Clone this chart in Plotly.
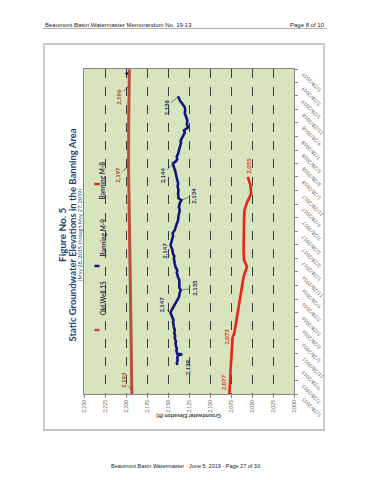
import plotly.graph_objects as go

# ---------------- data ----------------
ELEV_TICKS = [2250, 2225, 2200, 2175, 2150, 2125, 2100, 2075, 2050, 2025, 2000]
ELEV_TICK_TEXT = ["2,250", "2,225", "2,200", "2,175", "2,150", "2,125",
                  "2,100", "2,075", "2,050", "2,025", "2,000"]

DATE_TICKS = ["2015-05-28", "2015-07-28", "2015-09-28", "2015-11-28",
              "2016-01-28", "2016-03-28", "2016-05-28", "2016-07-28",
              "2016-09-28", "2016-11-28", "2017-01-28", "2017-03-28",
              "2017-05-28", "2017-07-28", "2017-09-28", "2017-11-28",
              "2018-01-28", "2018-03-28", "2018-05-28", "2018-07-28",
              "2018-09-28", "2018-11-28", "2019-01-28", "2019-03-28",
              "2019-05-28"]
DATE_TICK_TEXT = ["5/28/2015", "7/28/2015", "9/28/2015", "11/28/2015",
                  "1/28/2016", "3/28/2016", "5/28/2016", "7/28/2016",
                  "9/28/2016", "11/28/2016", "1/28/2017", "3/28/2017",
                  "5/28/2017", "7/28/2017", "9/28/2017", "11/28/2017",
                  "1/28/2018", "3/28/2018", "5/28/2018", "7/28/2018",
                  "9/28/2018", "11/28/2018", "1/28/2019", "3/28/2019",
                  "5/28/2019"]

OW15_DATES = ["2015-05-28", "2015-06-15", "2015-10-01", "2016-03-01", "2016-08-02",
              "2016-08-05", "2017-01-01", "2017-08-01", "2018-03-17", "2018-10-01",
              "2019-03-15", "2019-05-27"]
OW15_VALUES = [2193, 2193, 2193.5, 2194, 2194.6, 2195.3, 2196, 2196.5, 2197, 2196.8,
               2196, 2196]

M9_DATES = ["2015-10-05", "2015-10-15", "2015-10-27", "2015-11-09", "2015-11-19",
            "2015-11-22", "2015-11-25", "2015-12-09", "2015-12-20", "2015-12-29",
            "2016-01-12", "2016-01-20", "2016-02-02", "2016-02-15", "2016-02-27",
            "2016-03-10", "2016-03-24", "2016-04-13", "2016-04-25", "2016-05-08",
            "2016-05-26", "2016-06-06", "2016-06-26", "2016-07-05", "2016-07-16",
            "2016-08-06", "2016-08-25", "2016-09-06", "2016-09-19", "2016-10-09",
            "2016-10-20", "2016-11-03", "2016-11-23", "2016-12-05", "2016-12-18",
            "2017-01-05", "2017-01-27", "2017-02-05", "2017-02-16", "2017-03-08",
            "2017-03-27", "2017-04-17", "2017-05-07", "2017-05-20", "2017-06-02",
            "2017-06-26", "2017-07-17", "2017-08-05", "2017-08-20", "2017-08-31",
            "2017-09-14", "2017-10-02", "2017-10-15", "2017-10-24", "2017-11-16",
            "2017-12-01", "2017-12-13", "2018-01-01", "2018-01-13", "2018-02-06",
            "2018-02-26", "2018-03-12", "2018-03-30", "2018-04-07", "2018-04-17",
            "2018-05-01", "2018-05-12", "2018-06-10", "2018-07-01", "2018-07-10",
            "2018-07-25", "2018-08-15", "2018-08-25", "2018-09-08", "2018-09-21",
            "2018-10-09", "2018-10-20", "2018-10-29", "2018-11-10", "2018-11-25",
            "2018-12-07", "2018-12-23", "2019-01-07", "2019-01-25"]
M9_VALUES = [2139, 2139.5, 2138.5, 2139, 2137.5,
             2133, 2139, 2140, 2139.5, 2140.5,
             2141, 2140.5, 2142, 2141.5, 2142.5,
             2142, 2143, 2144, 2143.5, 2145,
             2147, 2146, 2143, 2142, 2140,
             2137, 2136, 2135, 2136.5, 2137,
             2136.5, 2138, 2139.5, 2139, 2141,
             2142, 2143, 2142.5, 2144, 2145,
             2147, 2145.5, 2144, 2144.5, 2142,
             2140, 2138, 2137.5, 2137, 2136,
             2137, 2136, 2134, 2137.5, 2138,
             2137.5, 2138.5, 2138, 2139, 2140,
             2141.5, 2143, 2144, 2141, 2139,
             2139.5, 2138, 2136, 2134.5, 2135,
             2133, 2130, 2131, 2126, 2127.5,
             2127, 2128, 2129, 2130, 2129.5,
             2130, 2133, 2136, 2138]
M9_EXTRA_DATES = ["2019-05-08"]
M9_EXTRA_VALUES = [2199]

M8_DATES = ["2015-05-28", "2015-06-17", "2015-07-30", "2015-09-15", "2015-10-28",
            "2015-12-14", "2016-01-23", "2016-02-09", "2016-02-26", "2016-04-12",
            "2016-06-11", "2016-08-22", "2016-10-09", "2016-11-05", "2016-11-28",
            "2016-12-20", "2017-01-07", "2017-01-19", "2017-02-26", "2017-04-04",
            "2017-05-17", "2017-07-16", "2017-08-31", "2017-10-04", "2017-11-14",
            "2017-12-23", "2018-01-28"]
M8_VALUES = [2077, 2076.5, 2076, 2075.5, 2075,
             2074.5, 2074, 2073, 2071, 2069,
             2067, 2064, 2062, 2060, 2058,
             2056, 2058, 2059.5, 2060, 2060,
             2059.5, 2059.5, 2059, 2056, 2051,
             2052, 2055]

OW15_LABEL_DATES = ["2015-06-15", "2018-03-17", "2019-03-15"]
OW15_LABEL_VALUES = [2193, 2197, 2196]
M9_LABEL_DATES = ["2015-10-05", "2016-05-26", "2016-09-06", "2017-03-27",
                  "2017-10-15", "2018-03-30", "2019-01-25"]
M9_LABEL_VALUES = [2139, 2147, 2135, 2147, 2134, 2144, 2138]
M8_LABEL_DATES = ["2015-05-28", "2016-02-09", "2018-01-28"]
M8_LABEL_VALUES = [2077, 2073, 2055]

SERIES_NAMES = ["Old Well 15", "Banning M-9", "Banning M-8"]

# ---------------- styles ----------------
W, H = 370, 480
C_OW15 = "#B9503F"
C_M9 = "#14147F"
C_M8 = "#EE2217"
C_OW15_LBL = "#A0461E"
C_M9_LBL = "#1A1F5C"
C_M8_LBL = "#E0301E"
FONT = "Lato"

def px(x):
    return x / W

def py(y):
    return 1 - y / H

fig = go.Figure()
fig.add_trace(go.Scatter(x=OW15_VALUES, y=OW15_DATES, mode="lines",
                         line=dict(color=C_OW15, width=3), name=SERIES_NAMES[0]))
fig.add_trace(go.Scatter(x=M9_VALUES, y=M9_DATES, mode="lines",
                         line=dict(color=C_M9, width=2.6), name=SERIES_NAMES[1]))
fig.add_trace(go.Scatter(x=M9_EXTRA_VALUES, y=M9_EXTRA_DATES, mode="markers",
                         marker=dict(color=C_M9, size=3), name=SERIES_NAMES[1]))
fig.add_trace(go.Scatter(x=M8_VALUES, y=M8_DATES, mode="lines",
                         line=dict(color=C_M8, width=2.6), name=SERIES_NAMES[2]))

annotations = []

def data_label(date, val, color, ax=None, ay=None, xs=0, ys=0):
    d = dict(x=val, y=date, xref="x", yref="y", text="<b>{:,}</b>".format(val),
             textangle=-90, font=dict(family=FONT, size=6, color=color))
    if ax is not None:
        d.update(showarrow=True, arrowhead=0, arrowwidth=0.6, arrowcolor="#333333",
                 ax=ax, ay=ay, standoff=0, startstandoff=0)
    else:
        d.update(showarrow=False, xshift=xs, yshift=ys)
    annotations.append(d)

ow_offsets = [(-9, -10), (-11, 9), (-11, 11)]
for d, v, (a, b) in zip(OW15_LABEL_DATES, OW15_LABEL_VALUES, ow_offsets):
    data_label(d, v, C_OW15_LBL, a, b)

m9_style = [("s", 10, -2), ("a", -9, -8), ("a", 14, -2), ("s", -6, -6),
            ("a", 12, -5), ("a", -11, 12), ("a", -12, 11)]
for d, v, st in zip(M9_LABEL_DATES, M9_LABEL_VALUES, m9_style):
    if st[0] == "a":
        data_label(d, v, C_M9_LBL, st[1], st[2])
    else:
        data_label(d, v, C_M9_LBL, xs=st[1], ys=st[2])

m8_style = [(-6, 12), (-6, 0), (1, 11)]
for d, v, (a, b) in zip(M8_LABEL_DATES, M8_LABEL_VALUES, m8_style):
    data_label(d, v, C_M8_LBL, xs=a, ys=b)

# date tick labels (rotated, hanging down-right from each tick)
for tv, tt in zip(DATE_TICKS, DATE_TICK_TEXT):
    annotations.append(dict(x=px(297.5), y=tv, xref="paper", yref="y", text=tt,
                            textangle=-135, xanchor="left", yanchor="top", showarrow=False,
                            font=dict(family=FONT, size=5, color="#595959")))

# titles (rotated)
annotations += [
    dict(x=px(54), y=py(235), xref="paper", yref="paper", text="<b>Figure No. 5</b>",
         textangle=-90, showarrow=False, font=dict(family=FONT, size=10, color="#1F3F73")),
    dict(x=px(65), y=py(235), xref="paper", yref="paper",
         text="<b>Static Groundwater Elevations in the Banning Area</b>",
         textangle=-90, showarrow=False, font=dict(family=FONT, size=9.5, color="#1F3F73")),
    dict(x=px(75), y=py(235), xref="paper", yref="paper",
         text="(May 28, 2015 through May 27, 2019)",
         textangle=-90, showarrow=False, font=dict(family=FONT, size=5.5, color="#1F3F73")),
    dict(x=px(189), y=py(421), xref="paper", yref="paper",
         text="<b>Groundwater Elevation (ft)</b>",
         textangle=180, showarrow=False, font=dict(family=FONT, size=5.5, color="#404040")),
]

# legend (rotated)
leg_text_y = [298, 238, 160]
leg_mark_y = [330, 266, 184]
leg_colors = [C_OW15, C_M9, C_M8]
shapes = []
for name, ty, my, c in zip(SERIES_NAMES, leg_text_y, leg_mark_y, leg_colors):
    annotations.append(dict(x=px(97), y=py(ty), xref="paper", yref="paper",
                            text="<b>" + name + "</b>", textangle=-90, showarrow=False,
                            font=dict(family=FONT, size=6.5, color="#333344")))
    shapes.append(dict(type="line", xref="paper", yref="paper",
                       x0=px(94.5), x1=px(99.5), y0=py(my), y1=py(my),
                       line=dict(color=c, width=2.5)))

# page header / footer
annotations += [
    dict(x=px(43), y=py(25), xref="paper", yref="paper", xanchor="left", yanchor="middle",
         text="Beaumont Basin Watermaster Memorandum No. 19-13", showarrow=False,
         font=dict(family="Liberation Sans", size=6, color="#222222")),
    dict(x=px(327), y=py(25), xref="paper", yref="paper", xanchor="right", yanchor="middle",
         text="Page 8 of 10", showarrow=False,
         font=dict(family="Liberation Sans", size=6, color="#222222")),
    dict(x=px(185), y=py(466), xref="paper", yref="paper", xanchor="center", yanchor="middle",
         text="Beaumont Basin Watermaster \u00b7 June 5, 2019 \u00b7 Page 27 of 33", showarrow=False,
         font=dict(family="Liberation Sans", size=5.5, color="#222222")),
]
shapes += [
    dict(type="line", xref="paper", yref="paper", x0=px(43), x1=px(327), y0=py(28.5), y1=py(28.5),
         line=dict(color="#9a9a9a", width=0.8)),
    dict(type="rect", xref="paper", yref="paper", x0=px(44), x1=px(324), y0=py(44), y1=py(430),
         line=dict(color="#c8c8c8", width=1.8)),
]

fig.update_layout(
    template="none",
    width=W, height=H, autosize=False,
    margin=dict(l=0, r=0, t=0, b=0, pad=0),
    paper_bgcolor="white", plot_bgcolor="#D7E4BD",
    showlegend=False,
    annotations=annotations, shapes=shapes,
    xaxis=dict(domain=[px(84), px(294)], range=[2250, 2000], tickmode="array",
               tickvals=ELEV_TICKS, ticktext=ELEV_TICK_TEXT, tickangle=-90,
               tickfont=dict(family=FONT, size=5, color="#595959"),
               showgrid=True, gridcolor="#3c3c3c", griddash="dash", gridwidth=0.6,
               showline=True, linecolor="#868686", linewidth=1, mirror=True,
               ticks="outside", ticklen=3, tickcolor="#868686", zeroline=False,
               anchor="y", fixedrange=True, automargin=False),
    yaxis=dict(domain=[py(394), py(69)], type="date", range=["2015-05-28", "2019-05-28"],
               side="right", tickmode="array", tickvals=DATE_TICKS, showticklabels=False,
               showgrid=False, showline=True, linecolor="#868686", linewidth=1, mirror=True,
               ticks="outside", ticklen=3, tickcolor="#868686", zeroline=False,
               anchor="x", fixedrange=True, automargin=False),
)

fig.write_html("out.html", config={"displayModeBar": False},
               post_script="document.body.style.margin='0';document.body.style.padding='0';")
